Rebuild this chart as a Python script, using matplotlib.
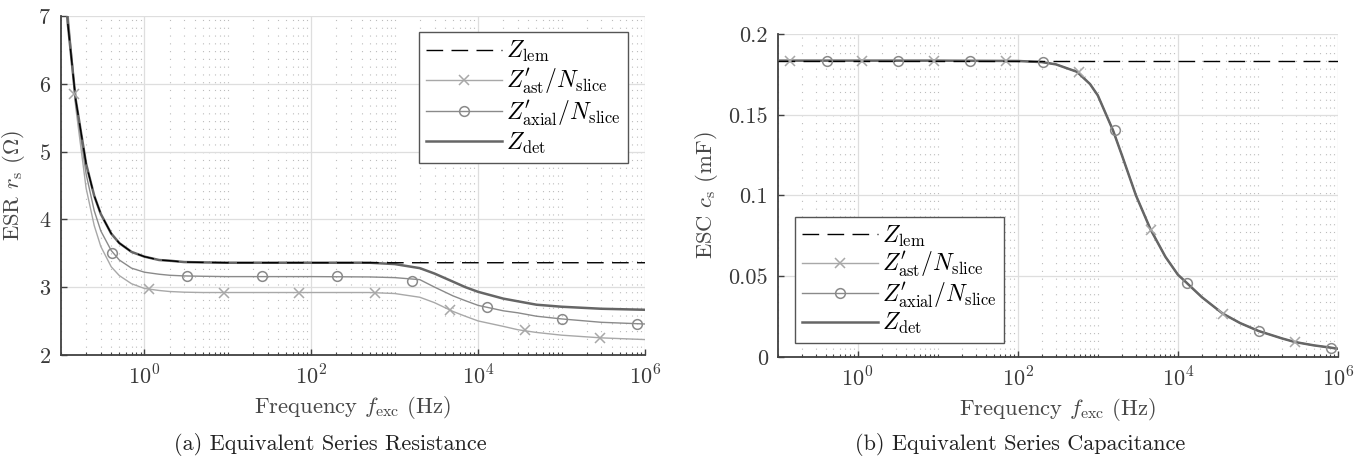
import numpy as np
import matplotlib
matplotlib.use("Agg")
import matplotlib.pyplot as plt
from matplotlib.ticker import FixedLocator, LogLocator, NullFormatter, FuncFormatter
from matplotlib.lines import Line2D

plt.rcParams['font.family'] = ['cmr10', 'DejaVu Serif']
plt.rcParams['mathtext.fontset'] = 'cm'
plt.rcParams['axes.formatter.use_mathtext'] = True

# ---------------- data ----------------
# (a) ESR r_s in Ohm
f_lo = [0.1, 0.12, 0.15, 0.2, 0.25, 0.3, 0.4, 0.5, 0.7, 1, 1.5, 2, 3, 5, 10, 100, 500]
esr_lem_lo = [8.25, 6.92, 5.77, 4.82, 4.35, 4.08, 3.79, 3.65, 3.52, 3.45, 3.40, 3.39, 3.37, 3.365, 3.36, 3.36, 3.36]
esr_ast_lo = [9.0, 7.0, 5.66, 4.46, 3.91, 3.60, 3.30, 3.17, 3.05, 2.98, 2.95, 2.935, 2.925, 2.92, 2.92, 2.92, 2.92]
esr_axial_lo = [9.2, 7.1, 5.75, 4.67, 4.13, 3.83, 3.54, 3.40, 3.28, 3.22, 3.19, 3.175, 3.165, 3.16, 3.155, 3.155, 3.15]

f_hi = [1e3, 2e3, 3e3, 5e3, 7e3, 1e4, 2e4, 3e4, 5e4, 1e5, 3e5, 1e6]
esr_lem_hi = [3.36, 3.36, 3.36, 3.36, 3.36, 3.36, 3.36, 3.36, 3.36, 3.36, 3.36, 3.36]
esr_det_hi = [3.34, 3.28, 3.20, 3.08, 3.00, 2.93, 2.83, 2.79, 2.74, 2.71, 2.68, 2.665]
esr_ast_hi = [2.905, 2.85, 2.77, 2.64, 2.57, 2.50, 2.42, 2.37, 2.33, 2.29, 2.25, 2.225]
esr_axial_hi = [3.14, 3.11, 3.00, 2.87, 2.80, 2.73, 2.65, 2.62, 2.57, 2.53, 2.48, 2.455]

# (b) ESC c_s in mF
f_c = [0.1, 1, 10, 100, 200, 300, 550, 800, 1000, 1550, 2000, 3000, 4570, 7000, 1e4,
       1.29e4, 2e4, 3.63e4, 6e4, 1.02e5, 2e5, 2.88e5, 5e5, 8.1e5, 1e6]
esc_det = [0.1835, 0.1835, 0.1835, 0.1833, 0.1826, 0.1812, 0.1766, 0.169, 0.162, 0.1403, 0.125,
           0.100, 0.0789, 0.062, 0.051, 0.0459, 0.037, 0.0269, 0.021, 0.0161, 0.0115, 0.0093,
           0.0072, 0.0058, 0.0051]
esc_lem = [0.1835] * len(f_c)

# marker positions (frequency, Hz)
f_mark_ast = [0.145, 1.15, 9.1, 72, 575, 4570, 36300, 288000]
f_mark_axial = [0.41, 3.2, 25.7, 204, 1620, 12900, 102000, 813000]
esr_mark_ast = [5.85, 2.965, 2.92, 2.92, 2.92, 2.655, 2.365, 2.255]
esr_mark_axial = [3.51, 3.157, 3.157, 3.157, 3.09, 2.70, 2.527, 2.46]
esc_mark_ast = [0.1835, 0.1835, 0.1835, 0.1835, 0.1766, 0.0789, 0.0269, 0.0093]
esc_mark_axial = [0.1835, 0.1835, 0.1835, 0.1826, 0.1403, 0.0459, 0.0161, 0.0058]

xtick_vals = [1, 1e2, 1e4, 1e6]
xtick_labels = [r'$10^{0}$', r'$10^{2}$', r'$10^{4}$', r'$10^{6}$']
legend_labels = [r'$Z_{\mathrm{lem}}$', r"$Z_{\mathrm{ast}}^{\prime}/N_{\mathrm{slice}}$",
                 r"$Z_{\mathrm{axial}}^{\prime}/N_{\mathrm{slice}}$", r'$Z_{\mathrm{det}}$']

# ---------------- styling ----------------
C_LEM = '#000000'
C_AST = '#a8a8a8'
C_AXIAL = '#8a8a8a'
C_DET = '#666666'
AX_COL = '#404040'
TXT_COL = '#3a3a3a'
LBL_COL = '#474747'
TICK_FS = 16
LABEL_FS = 16.3

fig = plt.figure(figsize=(13.67, 4.61), dpi=100)
axL = fig.add_axes([61 / 1367, 1 - 354.8 / 461, 584 / 1367, 338.5 / 461])
axR = fig.add_axes([777.5 / 1367, 1 - 357 / 461, 560.5 / 1367, 323 / 461])


def style_axes(ax):
    ax.set_xscale('log')
    ax.set_xlim(0.1, 1e6)
    ax.xaxis.set_major_locator(FixedLocator(xtick_vals))
    ax.set_xticklabels(xtick_labels)
    ax.xaxis.set_minor_locator(LogLocator(base=10, subs=np.arange(1, 10), numticks=30))
    ax.xaxis.set_minor_formatter(NullFormatter())
    ax.grid(True, which='major', color='#dedede', lw=0.9, ls='-', zorder=0)
    ax.grid(True, which='minor', axis='x', color='#bcbcbc', lw=0.8, ls=(0, (1, 6)), zorder=0)
    ax.set_axisbelow(True)
    for s in ['top', 'right']:
        ax.spines[s].set_visible(False)
    for s in ['left', 'bottom']:
        ax.spines[s].set_color(AX_COL)
        ax.spines[s].set_linewidth(1.3)
    ax.tick_params(which='major', direction='in', length=4.5, width=1.0, color=AX_COL,
                   labelsize=TICK_FS, labelcolor=TXT_COL, pad=7)
    ax.tick_params(which='minor', direction='in', length=2.5, width=0.8, color=AX_COL)
    ax.tick_params(axis='y', which='minor', left=False)
    ax.set_xlabel(r'Frequency $f_{\mathrm{exc}}$ (Hz)', fontsize=LABEL_FS, color=LBL_COL, labelpad=4)


for ax in (axL, axR):
    style_axes(ax)

# ---- left panel ----
axL.plot(f_lo + f_hi, esr_ast_lo + esr_ast_hi, color=C_AST, lw=1.0, zorder=2)
axL.plot(f_lo + f_hi, esr_axial_lo + esr_axial_hi, color=C_AXIAL, lw=1.0, zorder=2)
axL.plot(f_lo + f_hi, esr_lem_lo + esr_det_hi, color=C_DET, lw=1.8, zorder=3)
axL.plot(f_lo + f_hi, esr_lem_lo + esr_lem_hi, color=C_LEM, lw=1.0, ls=(0, (12, 6)), zorder=4)
axL.plot(f_mark_ast, esr_mark_ast, ls='none', marker='x', ms=7, mew=1.1, color=C_AST, zorder=5)
axL.plot(f_mark_axial, esr_mark_axial, ls='none', marker='o', ms=7, mew=1.1, mfc='none',
         color=C_AXIAL, zorder=5)
axL.set_ylim(2, 7)
axL.set_yticks([2, 3, 4, 5, 6, 7])
axL.set_ylabel(r'ESR $r_{\mathrm{s}}$ ($\Omega$)', fontsize=LABEL_FS, color=LBL_COL, labelpad=8)

# ---- right panel ----
axR.plot(f_c, esc_det, color=C_AST, lw=1.0, zorder=2)
axR.plot(f_c, esc_det, color=C_AXIAL, lw=1.0, zorder=2)
axR.plot(f_c, esc_det, color=C_DET, lw=1.8, zorder=3)
axR.plot(f_c, esc_lem, color=C_LEM, lw=1.0, ls=(0, (12, 6)), zorder=4)
axR.plot(f_mark_ast, esc_mark_ast, ls='none', marker='x', ms=7, mew=1.1, color=C_AST, zorder=5)
axR.plot(f_mark_axial, esc_mark_axial, ls='none', marker='o', ms=7, mew=1.1, mfc='none',
         color=C_AXIAL, zorder=5)
axR.set_ylim(0, 0.2)
axR.set_yticks([0, 0.05, 0.1, 0.15, 0.2])
axR.yaxis.set_major_formatter(FuncFormatter(lambda v, p: '%g' % v))
axR.set_ylabel(r'ESC $c_{\mathrm{s}}$ (mF)', fontsize=LABEL_FS, color=LBL_COL, labelpad=6)


def handles(dash, ms):
    return [
        Line2D([], [], color=C_LEM, lw=1.0, ls=(0, dash)),
        Line2D([], [], color=C_AST, lw=1.0, marker='x', ms=ms, mew=1.1),
        Line2D([], [], color=C_AXIAL, lw=1.0, marker='o', ms=ms, mew=1.1, mfc='none'),
        Line2D([], [], color=C_DET, lw=1.8),
    ]


legL = axL.legend(handles((12, 6), 7), legend_labels, loc='upper right',
                  bbox_to_anchor=(0.971, 0.954),
                  fontsize=17, handlelength=3.2, fancybox=False, framealpha=1,
                  edgecolor='#555555', borderpad=0.3, labelspacing=0.12, handletextpad=0.2,
                  borderaxespad=0)
legL.get_frame().set_linewidth(1.0)
legR = axR.legend(handles((12, 6), 7), legend_labels, loc='lower left',
                  bbox_to_anchor=(0.031, 0.043),
                  fontsize=17, handlelength=3.2, fancybox=False, framealpha=1,
                  edgecolor='#555555', borderpad=0.3, labelspacing=0.06, handletextpad=0.2,
                  borderaxespad=0)
legR.get_frame().set_linewidth(1.0)

fig.text(330 / 1367, 1 - 444 / 461, '(a) Equivalent Series Resistance', ha='center', va='center',
         fontsize=16, color='#222222')
fig.text(1020 / 1367, 1 - 444 / 461, '(b) Equivalent Series Capacitance', ha='center', va='center',
         fontsize=16, color='#222222')

fig.savefig('out.png', dpi=100)
